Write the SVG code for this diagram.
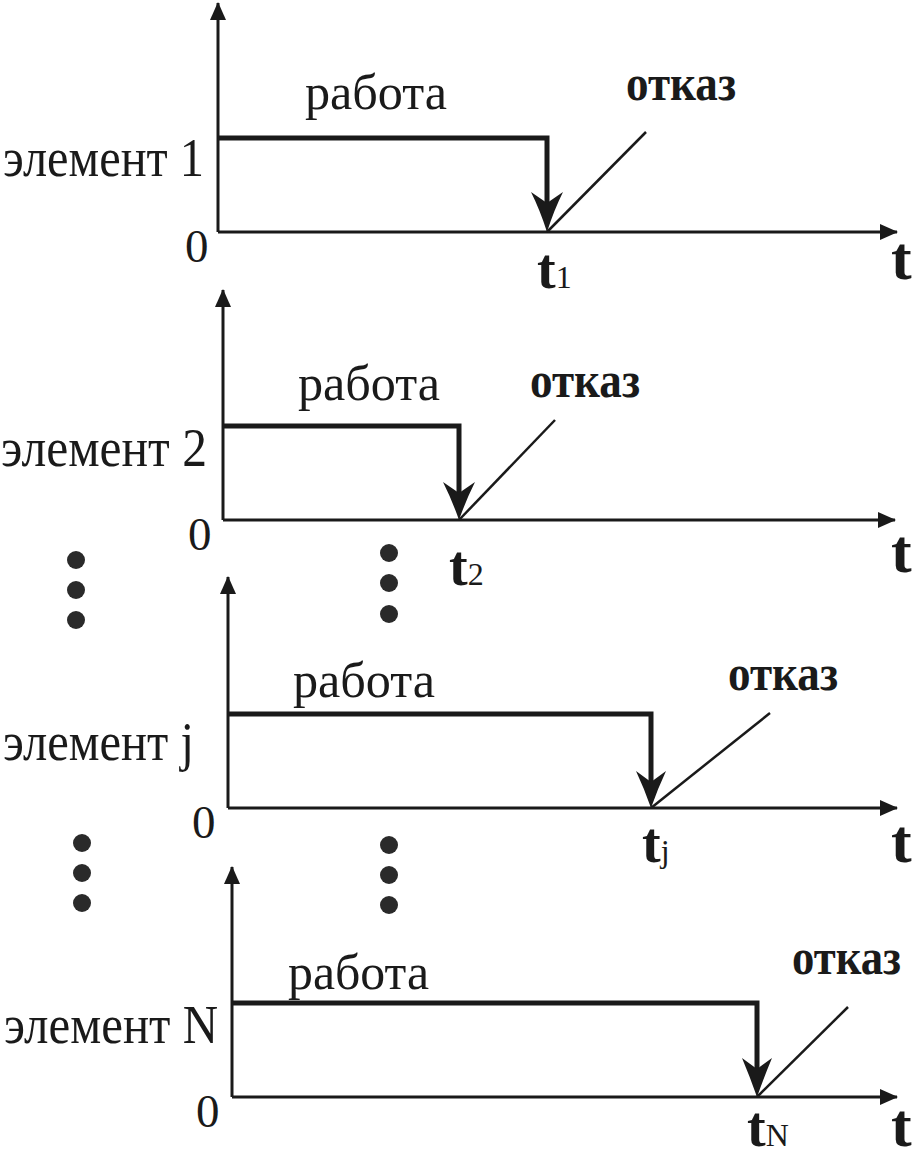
<svg xmlns="http://www.w3.org/2000/svg" width="915" height="1159" viewBox="0 0 915 1159">
<style>
text{font-family:"Liberation Serif","Times New Roman",serif;fill:#1a1a1a}
.lbl{font-size:55px}
.work{font-size:51px}
.fail{font-size:51px;font-weight:bold}
.zero{font-size:47px}
.tax{font-size:62px;font-weight:bold}
.ti{font-size:56px;font-weight:bold}
.sub{font-size:32px;font-weight:normal}
.axis{stroke:#1a1a1a;stroke-width:3;fill:none}
.state{stroke:#1a1a1a;stroke-width:5;fill:none;stroke-linejoin:miter}
.diag{stroke:#1a1a1a;stroke-width:2.5;fill:none}
.head{fill:#1a1a1a}
.dot{fill:#2a2a2a}
</style>
<defs>
<marker id="ax" viewBox="0 0 18 16" refX="17" refY="8" markerWidth="18" markerHeight="16" markerUnits="userSpaceOnUse" orient="auto">
<path d="M0,0 L18,8 L0,16 Z" fill="#1a1a1a"/>
</marker>
</defs>

<g id="connectors">
<!-- panel 1 -->
<polyline class="axis" points="218,232 218,3" marker-end="url(#ax)"/>
<polyline class="axis" points="218,232 897,232" marker-end="url(#ax)"/>
<polyline class="state" points="218,138 547,138 547,205"/>
<path class="head" d="M547,232 Q540,210 531,192 L547,203 L563,192 Q554,210 547,232 Z"/>
<line class="diag" x1="547" y1="232" x2="646" y2="132"/>
<!-- panel 2 -->
<polyline class="axis" points="223,520 223,290" marker-end="url(#ax)"/>
<polyline class="axis" points="223,520 895,520" marker-end="url(#ax)"/>
<polyline class="state" points="223,426 459,426 459,495"/>
<path class="head" d="M459,520 Q452,500 443,482 L459,493 L475,482 Q466,500 459,520 Z"/>
<line class="diag" x1="459" y1="520" x2="555" y2="420"/>
<!-- panel j -->
<polyline class="axis" points="228,808 228,577" marker-end="url(#ax)"/>
<polyline class="axis" points="228,808 897,808" marker-end="url(#ax)"/>
<polyline class="state" points="228,714 651,714 651,782"/>
<path class="head" d="M651,808 Q644,788 636,771 L651,782 L666,771 Q658,788 651,808 Z"/>
<line class="diag" x1="651" y1="808" x2="770" y2="713"/>
<!-- panel N -->
<polyline class="axis" points="232,1097 232,867" marker-end="url(#ax)"/>
<polyline class="axis" points="232,1097 897,1097" marker-end="url(#ax)"/>
<polyline class="state" points="232,1003 757,1003 757,1070"/>
<path class="head" d="M757,1097 Q750,1077 742,1058 L757,1069 L772,1058 Q764,1077 757,1097 Z"/>
<line class="diag" x1="757" y1="1097" x2="848" y2="1007"/>
</g>

<g id="panel1">
<text class="work" x="305" y="109" textLength="142" lengthAdjust="spacingAndGlyphs">работа</text>
<text class="fail" x="626" y="100" textLength="110" lengthAdjust="spacingAndGlyphs">отказ</text>
<text class="lbl" x="3" y="176" textLength="201" lengthAdjust="spacingAndGlyphs">элемент 1</text>
<text class="zero" x="185" y="262">0</text>
<text class="tax" x="891" y="279">t</text>
<text class="ti" x="537" y="288">t<tspan class="sub">1</tspan></text>
</g>

<g id="panel2">
<text class="work" x="298" y="400" textLength="142" lengthAdjust="spacingAndGlyphs">работа</text>
<text class="fail" x="530" y="397" textLength="110" lengthAdjust="spacingAndGlyphs">отказ</text>
<text class="lbl" x="1" y="466" textLength="206" lengthAdjust="spacingAndGlyphs">элемент 2</text>
<text class="zero" x="188" y="550">0</text>
<text class="tax" x="891" y="572">t</text>
<text class="ti" x="449" y="585">t<tspan class="sub">2</tspan></text>
</g>

<g id="panelj">
<text class="work" x="293" y="697" textLength="142" lengthAdjust="spacingAndGlyphs">работа</text>
<text class="fail" x="728" y="690" textLength="110" lengthAdjust="spacingAndGlyphs">отказ</text>
<text class="lbl" x="3" y="760" textLength="191" lengthAdjust="spacingAndGlyphs">элемент j</text>
<text class="zero" x="192" y="838">0</text>
<text class="tax" x="891" y="862">t</text>
<text class="ti" x="642" y="862">t<tspan class="sub">j</tspan></text>
</g>

<g id="panelN">
<text class="work" x="288" y="989" textLength="141" lengthAdjust="spacingAndGlyphs">работа</text>
<text class="fail" x="792" y="974" textLength="109" lengthAdjust="spacingAndGlyphs">отказ</text>
<text class="lbl" x="4" y="1043" textLength="214" lengthAdjust="spacingAndGlyphs">элемент N</text>
<text class="zero" x="196" y="1127">0</text>
<text class="tax" x="891" y="1146">t</text>
<text class="ti" x="747" y="1146">t<tspan class="sub">N</tspan></text>
</g>

<g id="ellipsis">
<circle class="dot" cx="76" cy="560" r="9"/>
<circle class="dot" cx="76" cy="590" r="9"/>
<circle class="dot" cx="76" cy="620" r="9"/>
<circle class="dot" cx="389" cy="553" r="9"/>
<circle class="dot" cx="389" cy="583" r="9"/>
<circle class="dot" cx="389" cy="614" r="9"/>
<circle class="dot" cx="82" cy="843" r="9"/>
<circle class="dot" cx="82" cy="873" r="9"/>
<circle class="dot" cx="82" cy="903" r="9"/>
<circle class="dot" cx="389" cy="845" r="9"/>
<circle class="dot" cx="389" cy="875" r="9"/>
<circle class="dot" cx="389" cy="905" r="9"/>
</g>
</svg>
